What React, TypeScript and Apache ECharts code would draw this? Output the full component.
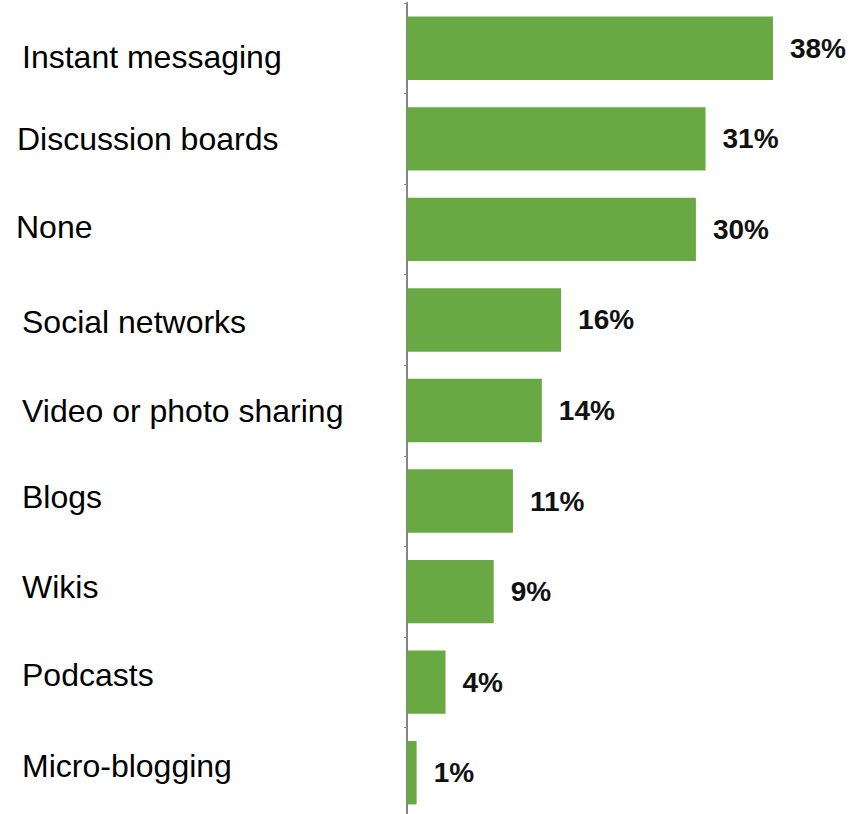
import React, { useEffect, useRef } from "react";
import * as echarts from "echarts";

const categories = [
  "Instant messaging",
  "Discussion boards",
  "None",
  "Social networks",
  "Video or photo sharing",
  "Blogs",
  "Wikis",
  "Podcasts",
  "Micro-blogging",
];
const values = [38, 31, 30, 16, 14, 11, 9, 4, 1];

// label nudges (px): [dx, dy]
const labelNudge: [number, number][] = [
  [6, 9],
  [1, 0],
  [0, -2],
  [6, 2],
  [6, 0],
  [6, -4],
  [6, -5],
  [6, -7],
  [6, -7],
];

export default function App() {
  const ref = useRef<HTMLDivElement>(null);
  useEffect(() => {
    if (!ref.current) return;
    const chart = echarts.init(ref.current, null, { renderer: "svg" });
    const font = "'Liberation Sans', Arial, sans-serif";
    const rich: Record<string, any> = {};
    labelNudge.forEach(([dx, dy], i) => {
      rich["n" + i] = {
        fontSize: 32,
        color: "#000",
        fontFamily: font,
        padding: [dy > 0 ? 2 * dy : 0, 0, dy < 0 ? -2 * dy : 0, dx],
      };
    });
    chart.setOption({
      animation: false,
      grid: {
        left: 407,
        top: 3,
        width: 443,
        height: 815,
        containLabel: false,
        outerBoundsMode: "none",
      },
      xAxis: {
        type: "value",
        min: 0,
        max: 46,
        show: false,
      },
      yAxis: {
        type: "category",
        inverse: true,
        data: categories,
        axisLine: { show: true, lineStyle: { color: "#858585", width: 2 } },
        axisTick: { show: true, length: 3, lineStyle: { color: "#858585", width: 1 } },
        axisLabel: {
          align: "left",
          margin: 391,
          fontSize: 32,
          color: "#000",
          fontFamily: font,
          formatter: (v: string, i: number) => `{n${i}|${v}}`,
          rich,
        },
        splitLine: { show: false },
      },
      series: [
        {
          type: "bar",
          data: values,
          barCategoryGap: "30%",
          itemStyle: { color: "#68a944" },
          label: {
            show: true,
            position: "right",
            distance: 17,
            formatter: "{c}%",
            fontSize: 28,
            fontWeight: "bold",
            color: "#111",
            fontFamily: font,
          },
        },
      ],
    });
    return () => chart.dispose();
  }, []);
  return (
    <div
      ref={ref}
      style={{ position: "absolute", left: 0, top: 0, width: 851, height: 814, background: "#fff" }}
    />
  );
}
